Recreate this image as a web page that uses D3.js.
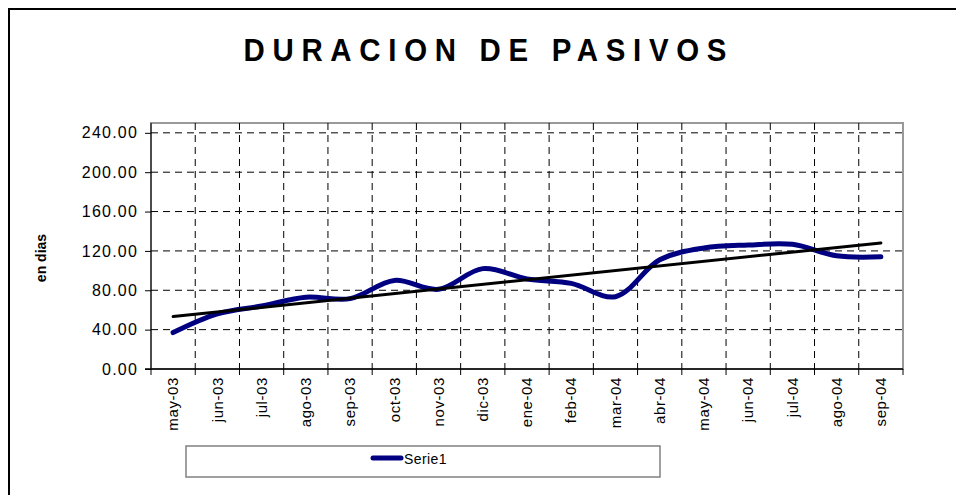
<!doctype html>
<html lang="es">
<head>
  <meta charset="utf-8">
  <title>Duracion de pasivos</title>
  <style>
    body { margin: 0; background: #fff; }
    svg { display: block; font-family: "Liberation Sans", Arial, sans-serif; }
    .grid line { stroke: #000; stroke-width: 1; stroke-dasharray: 7,5; }
    .axis path, .axis line { stroke: #000; }
  </style>
</head>
<body>
  <div id="chart"></div>
  <script src="https://cdn.jsdelivr.net/npm/d3@7"></script>
  <script>
(function(){

  var months = ["may-03", "jun-03", "jul-03", "ago-03", "sep-03", "oct-03", "nov-03", "dic-03",
                "ene-04", "feb-04", "mar-04", "abr-04", "may-04", "jun-04", "jul-04", "ago-04", "sep-04"];
  var serie1 = [37, 56, 64, 73, 71.5, 90, 81, 102, 91.5, 87, 73.5, 111, 123, 126, 126.7, 115, 114];
  var yTicks = [0, 40, 80, 120, 160, 200, 240];

  var width = 956, height = 495;
  var left = 151, right = 903, top = 123, bottom = 369;

  var svg = d3.select("#chart").append("svg")
      .attr("width", width)
      .attr("height", height);

  // outer chart frame
  svg.append("rect")
      .attr("x", 9).attr("y", 9)
      .attr("width", width + 20).attr("height", height + 20)
      .attr("fill", "#fff")
      .attr("stroke", "#000")
      .attr("stroke-width", 2);

  // title: slightly condensed glyphs, wide spacing
  var sx = 0.92;
  svg.append("text")
      .attr("transform", "translate(485,61) scale(" + sx + ",1)")
      .attr("text-anchor", "middle")
      .attr("font-size", 32)
      .attr("font-weight", "bold")
      .attr("textLength", 483 / sx)
      .attr("lengthAdjust", "spacing")
      .text("DURACION DE PASIVOS");

  var x = d3.scaleBand().domain(months).range([left, right]).padding(0);
  var y = d3.scaleLinear().domain([0, 250]).range([bottom, top]);

  // plot area border
  svg.append("rect")
      .attr("x", left).attr("y", top)
      .attr("width", right - left).attr("height", bottom - top)
      .attr("fill", "none")
      .attr("stroke", "#999")
      .attr("stroke-width", 2);

  var grid = svg.append("g").attr("class", "grid");
  grid.selectAll(".h").data(yTicks.filter(function(d){ return d > 0; }))
    .enter().append("line")
      .attr("x1", left).attr("x2", right)
      .attr("y1", function(d){ return y(d); })
      .attr("y2", function(d){ return y(d); });
  grid.selectAll(".v").data(months.slice(1))
    .enter().append("line")
      .attr("x1", function(d){ return x(d); })
      .attr("x2", function(d){ return x(d); })
      .attr("y1", top).attr("y2", bottom);

  // y axis
  var yAxis = svg.append("g")
      .attr("class", "axis")
      .attr("transform", "translate(" + left + ",0)")
      .call(d3.axisLeft(y).tickValues(yTicks).tickSize(6).tickSizeOuter(0)
        .tickFormat(d3.format(".2f")));
  yAxis.select(".domain").attr("d", "M0," + top + "V" + bottom);
  yAxis.selectAll("text")
      .attr("font-size", 16)
      .attr("letter-spacing", 1.2)
      .attr("fill", "#000")
      .attr("x", -13);

  // x axis: ticks on category boundaries
  var xAxis = svg.append("g")
      .attr("class", "axis")
      .attr("transform", "translate(0," + bottom + ")");
  xAxis.append("line")
      .attr("x1", left - 6).attr("x2", right)
      .attr("stroke", "#000").attr("stroke-width", 1.5);
  xAxis.selectAll(".tk").data(months.concat(["end"]))
    .enter().append("line")
      .attr("x1", function(d, i){ return left + i * x.bandwidth(); })
      .attr("x2", function(d, i){ return left + i * x.bandwidth(); })
      .attr("y1", 0).attr("y2", 6);
  xAxis.selectAll(".lbl").data(months)
    .enter().append("text")
      .attr("transform", function(d){
        return "translate(" + (x(d) + x.bandwidth() / 2) + ",8) rotate(-90)";
      })
      .attr("dy", "0.35em")
      .attr("text-anchor", "end")
      .attr("font-size", 15)
      .attr("letter-spacing", 0.6)
      .text(function(d){ return d; });

  svg.append("text")
      .attr("transform", "translate(46,258) rotate(-90)")
      .attr("text-anchor", "middle")
      .attr("font-size", 14)
      .attr("font-weight", "bold")
      .text("en dias");

  // series line (smoothed like the spreadsheet)
  var line = d3.line()
      .x(function(d, i){ return x(months[i]) + x.bandwidth() / 2; })
      .y(function(d){ return y(d); })
      .curve(d3.curveCatmullRom.alpha(0.5));

  svg.append("path")
      .datum(serie1)
      .attr("d", line)
      .attr("fill", "none")
      .attr("stroke", "#000080")
      .attr("stroke-width", 5)
      .attr("stroke-linecap", "round");

  // linear trend of serie1
  var n = serie1.length;
  var mx = d3.mean(serie1, function(d, i){ return i; });
  var my = d3.mean(serie1);
  var sxy = d3.sum(serie1, function(d, i){ return (i - mx) * (d - my); });
  var sxx = d3.sum(serie1, function(d, i){ return (i - mx) * (i - mx); });
  var slope = sxy / sxx;
  var trend = [0, n - 1].map(function(i){ return my + slope * (i - mx); });

  svg.append("line")
      .attr("x1", x(months[0]) + x.bandwidth() / 2)
      .attr("x2", x(months[n - 1]) + x.bandwidth() / 2)
      .attr("y1", y(trend[0]))
      .attr("y2", y(trend[1]))
      .attr("stroke", "#000")
      .attr("stroke-width", 3)
      .attr("stroke-linecap", "round");

  // legend
  var legend = svg.append("g");
  legend.append("rect")
      .attr("x", 186).attr("y", 446)
      .attr("width", 474).attr("height", 31)
      .attr("fill", "#fff")
      .attr("stroke", "#808080")
      .attr("stroke-width", 1.5);
  legend.append("line")
      .attr("x1", 373).attr("x2", 401)
      .attr("y1", 458).attr("y2", 458)
      .attr("stroke", "#000080")
      .attr("stroke-width", 5)
      .attr("stroke-linecap", "round");
  legend.append("text")
      .attr("x", 404).attr("y", 464)
      .attr("font-size", 14)
      .attr("letter-spacing", 0.4)
      .text("Serie1");

})();
  </script>
</body>
</html>
